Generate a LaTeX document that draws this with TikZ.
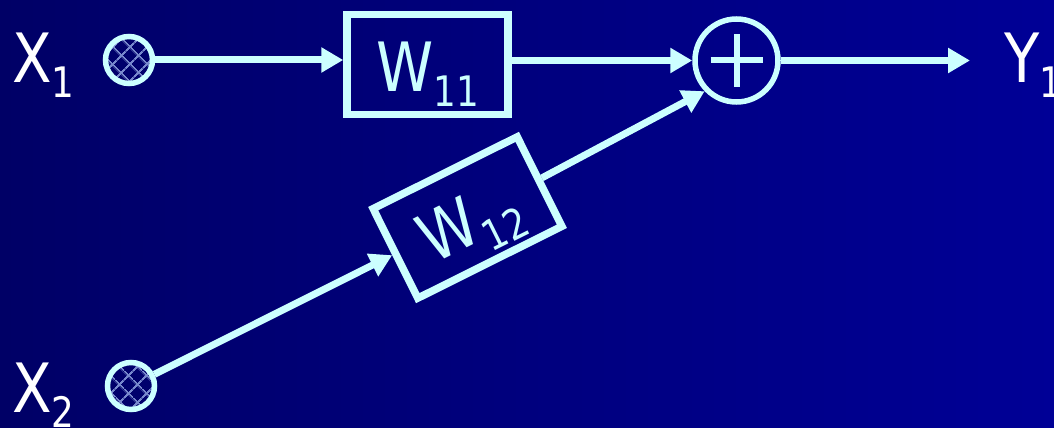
\documentclass[tikz,border=0pt]{standalone}
\usepackage{fontspec}
\setmainfont{DejaVu Sans}[FakeStretch=0.85]
\usetikzlibrary{arrows.meta,patterns.meta}

\definecolor{wire}{HTML}{CCFFFF}
\definecolor{bgleft}{HTML}{000066}
\definecolor{bgright}{HTML}{000096}
\definecolor{mesh}{HTML}{7788CC}
\newcommand{\sublbl}[2]{#1\raisebox{-15pt}{\fontsize{42}{42}\selectfont #2}}

\tikzset{
  wbox/.style={draw=wire, line width=7.5pt, minimum width=161pt, minimum height=100pt,
    inner sep=0pt, text=wire, text height=70pt, text depth=15pt},
  inp/.style={circle, draw=wire, line width=5.5pt, minimum size=47pt, inner sep=0pt,
    pattern={Hatch[angle=45,distance=13pt,line width=2pt]}, pattern color=mesh},
  sig/.style={draw=wire, line width=7pt, -{Triangle[length=22pt,width=24pt]}},
  lbl/.style={anchor=base west, inner sep=0pt, text=white},
}

\begin{document}
\begin{tikzpicture}[x=1pt, y=-1pt, font=\fontsize{68}{68}\selectfont]
    % background, 1054 x 428
    \useasboundingbox (0,0) rectangle (1054,428);
    \fill[left color=bgleft, right color=bgright] (0,0) rectangle (1054,428);

    \node[lbl] (x1) at (12,82) {\sublbl{X}{1}};
    \node[lbl] (x2) at (12,412) {\sublbl{X}{2}};
    \node[inp] (in1) at (129,60) {};
    \node[inp] (in2) at (131,386) {};

    \node[wbox] (w11) at (427.5,64.5) {\sublbl{W}{11}};
    \node[wbox, rotate=26.5] (w12) at (467.5,217.5) {\sublbl{W}{12}};

    \node[circle, draw=wire, line width=5.5pt, minimum size=83pt, inner sep=0pt] (sum) at (736.5,60.5) {};
    \draw[wire, line width=6pt] ([xshift=-26pt]sum.center) -- ([xshift=26pt]sum.center);
    \draw[wire, line width=6pt] ([yshift=-26pt]sum.center) -- ([yshift=26pt]sum.center);

    \coordinate (out) at (970,60.5);
    \node[lbl] (y1) at (1004,82) {\sublbl{Y}{1}};

    \draw[sig] (in1) -- (w11.west |- in1);
    \draw[sig] (w11.east |- sum) -- (sum);
    \draw[sig] (in2) -- (w12);
    \draw[sig] (w12) -- (sum.224);
    \draw[sig] (sum) -- (out);
\end{tikzpicture}
\end{document}
